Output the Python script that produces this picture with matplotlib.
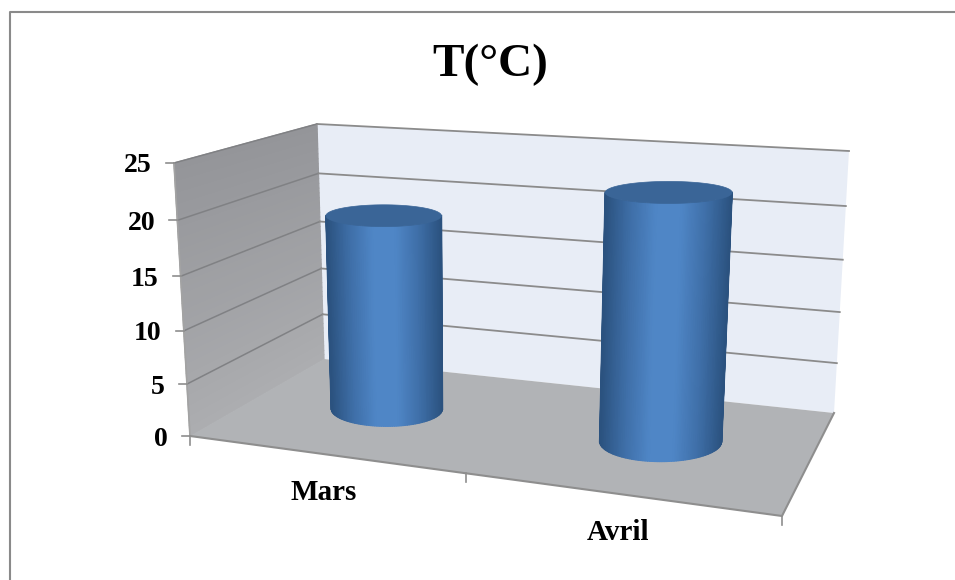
import numpy as np
import matplotlib
matplotlib.use("Agg")
import matplotlib.pyplot as plt
from matplotlib.colors import LinearSegmentedColormap
from matplotlib.patches import Polygon

plt.rcParams["font.family"] = "Liberation Serif"
plt.rcParams["font.weight"] = "bold"

categories = ["Mars", "Avril"]
temperatures = [18.9, 22.7]
y_ticks = [0, 5, 10, 15, 20, 25]
y_max = 25

# box corners on the canvas, in pixels: floor then top plane
FLOOR = [(190, 436), (782, 516), (834, 413), (324, 359)]
TOP = [(174, 163), (797, 203), (849, 151), (317, 124)]
UNIT = [(0, 0), (1, 0), (1, 1), (0, 1)]
Y_PERSPECTIVE = 0.94


def homography(src, dst):
    rows = []
    rhs = []
    for (x, y), (u, v) in zip(src, dst):
        rows.append([x, y, 1, 0, 0, 0, -u * x, -u * y])
        rows.append([0, 0, 0, x, y, 1, -v * x, -v * y])
        rhs += [u, v]
    h = np.linalg.solve(np.array(rows, float), np.array(rhs, float))
    return np.append(h, 1).reshape(3, 3)


H_FLOOR = homography(UNIT, FLOOR)
H_TOP = homography(UNIT, TOP)


def apply_h(h, x, d):
    p = h @ np.array([x, d, 1.0])
    return p[:2] / p[2]


def project(x, d, value):
    # x along the category axis, d into the depth, value up the y axis
    s = value / y_max
    t = s * Y_PERSPECTIVE / (1 + s * (Y_PERSPECTIVE - 1))
    return tuple((1 - t) * apply_h(H_FLOOR, x, d) + t * apply_h(H_TOP, x, d))


def ellipse_at(cx, value, rx, rd, theta):
    # level ellipse of a cylinder, kept horizontal on the canvas
    cen = project(cx, 0.5, value)
    a = (project(cx + rx, 0.5, value)[0] - project(cx - rx, 0.5, value)[0]) / 2
    b = (project(cx, 0.5 - rd, value)[1] - project(cx, 0.5 + rd, value)[1]) / 2
    return cen[0] + a * np.cos(theta), cen[1] + b * np.sin(theta)


def mix(c1, c2, t):
    c1 = np.array(matplotlib.colors.to_rgb(c1))
    c2 = np.array(matplotlib.colors.to_rgb(c2))
    return tuple(c1 + (c2 - c1) * t)


fig = plt.figure(figsize=(9.55, 5.8), dpi=100, facecolor="white")
ax = fig.add_axes([0, 0, 1, 1])
ax.set_xlim(0, 955)
ax.set_ylim(580, 0)
ax.axis("off")

# chart frame
ax.plot([10, 10, 955], [580, 12, 12], color="#8a8a8a", lw=1.5)

# back wall
ax.add_patch(Polygon([project(0, 1, 0), project(1, 1, 0), project(1, 1, y_max), project(0, 1, y_max)],
                     fc="#e8edf6", ec="none"))

# left wall, shaded in thin bands
n_bands = 50
for i in range(n_bands):
    v0 = y_max * i / n_bands
    v1 = y_max * (i + 1) / n_bands
    band = mix("#acadb0", "#949599", i / n_bands)
    ax.add_patch(Polygon([project(0, 0, v0), project(0, 1, v0), project(0, 1, v1), project(0, 0, v1)],
                         fc=band, ec=band, lw=0.9))

# floor
ax.add_patch(Polygon([project(0, 0, 0), project(1, 0, 0), project(1, 1, 0), project(0, 1, 0)],
                     fc="#b1b3b6", ec="none"))

# gridlines
for v in y_ticks[1:]:
    p = [project(0, 0, v), project(0, 1, v), project(1, 1, v)]
    ax.plot(*zip(*p[:2]), color="#808184", lw=1.1)
    ax.plot(*zip(*p[1:]), color="#8b8b8b", lw=1.3)

# axis edges and tick marks
edge = "#8e8e8e"
ax.plot(*zip(project(0, 0, 0), project(0, 0, y_max)), color="#a3a3a3", lw=1.2)
ax.plot(*zip(project(0, 0, 0), project(1, 0, 0), project(1, 1, 0)), color=edge, lw=1.5)
for v in y_ticks:
    x0, y0 = project(0, 0, v)
    ax.plot([x0 - 8, x0], [y0, y0], color=edge, lw=1.2)
    ax.text(x0 - 22, y0 + 3, str(v), ha="right", va="center", fontsize=20, color="black")

for x in [0, 0.51, 1]:
    x0, y0 = project(x, 0, 0)
    ax.plot([x0, x0], [y0, y0 + 9], color=edge, lw=1.2)

# cylinders: smooth shaded side plus a flat cap, above the gridlines
centers = [0.256, 0.757]
half_widths = [0.11, 0.103]
radius_d = 0.21
side_dark = "#2b527f"
body_cmap = LinearSegmentedColormap.from_list("body", [side_dark, "#3f6fa8", "#4f86c6", "#4f86c6", "#3f6fa8", side_dark])
theta = np.linspace(0, np.pi, 80)  # front half, y grows downwards
for value, cx, rx in zip(temperatures, centers, half_widths):
    bx, by = ellipse_at(cx, 0, rx, radius_d, theta)
    tx, ty = ellipse_at(cx, value, rx, radius_d, theta)
    X = np.vstack([bx, tx])
    Y = np.vstack([by, ty])
    C = np.vstack([np.cos(theta), np.cos(theta)])
    ax.pcolormesh(X, Y, C, shading="gouraud", cmap=body_cmap, vmin=-1, vmax=1, zorder=3)
    # straight side edges hide the stepping of the mesh
    ax.plot([bx[0], tx[0]], [by[0], ty[0]], color=side_dark, lw=1.2, zorder=3.5)
    ax.plot([bx[-1], tx[-1]], [by[-1], ty[-1]], color=side_dark, lw=1.2, zorder=3.5)
    circle = np.linspace(0, 2 * np.pi, 120)
    capx, capy = ellipse_at(cx, value, rx, radius_d, circle)
    ax.add_patch(Polygon(np.column_stack([capx, capy]), fc="#3a6597", ec="#3a6597", lw=0.5, zorder=4))

# category labels sit under the middle of each tick interval
for i, name in enumerate(categories):
    x0, y0 = project((i + 0.5) / len(categories), 0, 0)
    ax.text(x0 + 4, y0 + 39, name, ha="center", va="center", fontsize=21, color="black")

ax.text(490, 65, "T(°C)", ha="center", va="center", fontsize=34, color="black")

fig.savefig("out.png", dpi=100)
